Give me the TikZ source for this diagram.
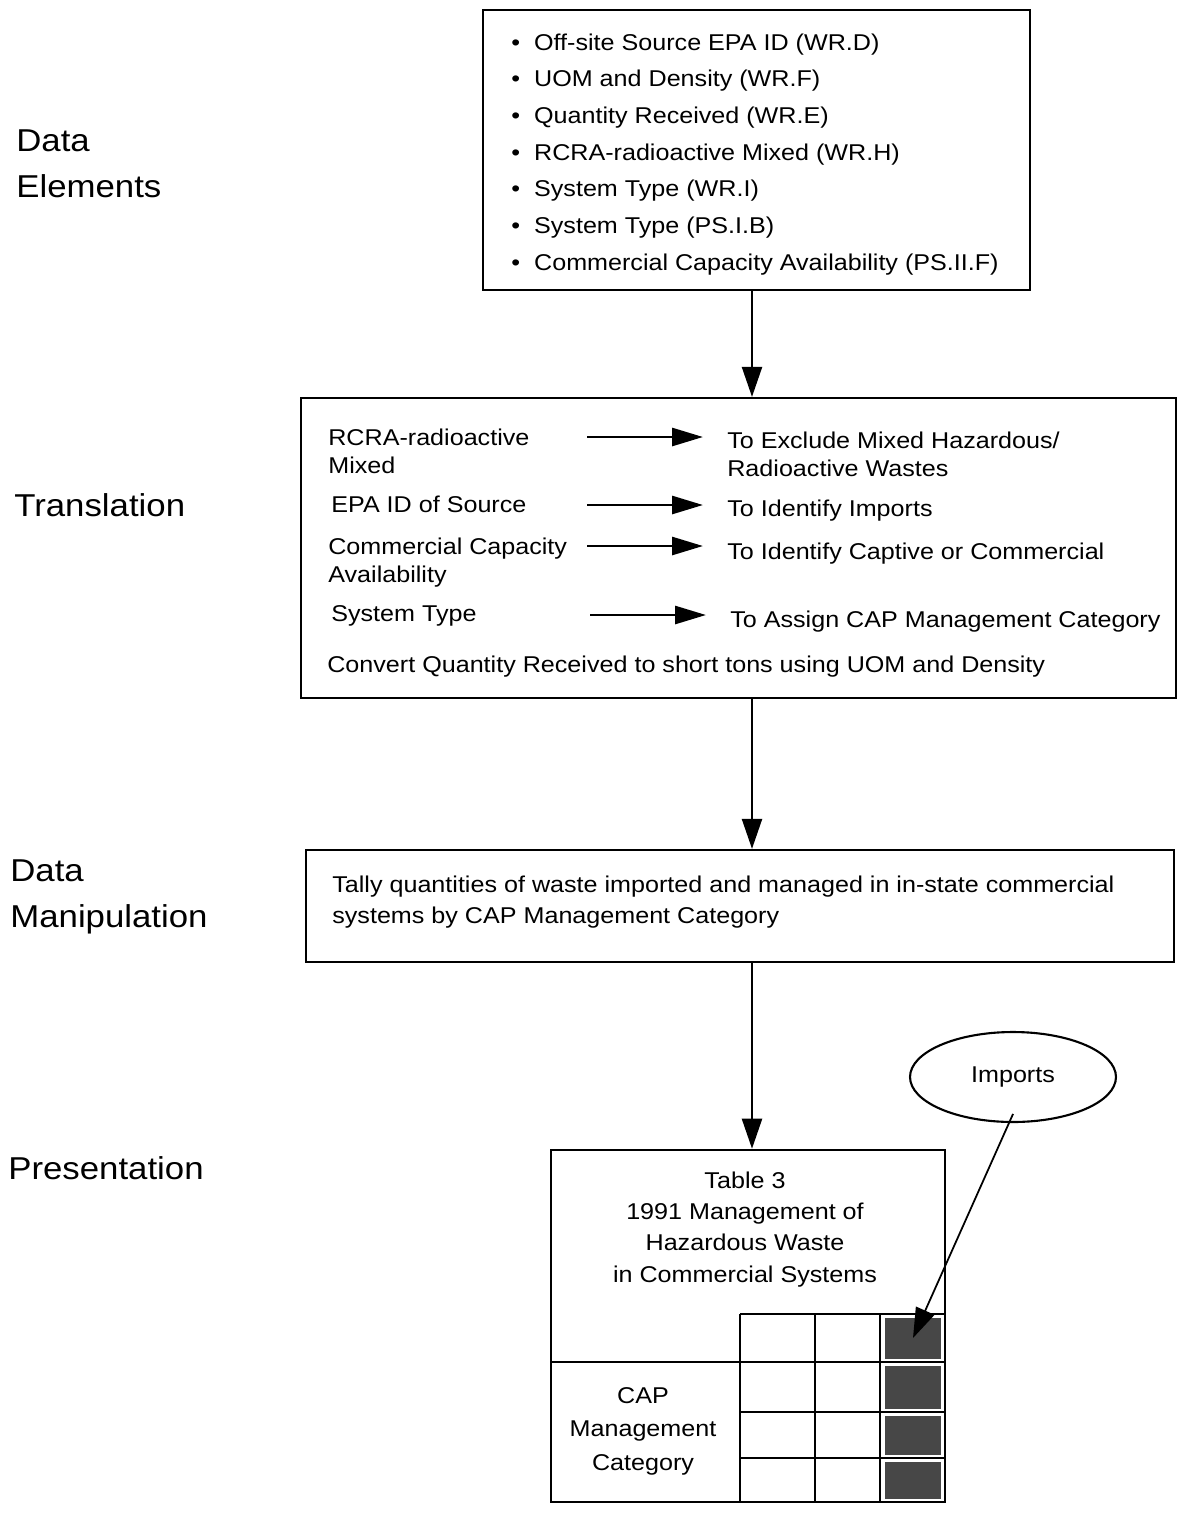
\documentclass[tikz,border=0pt]{standalone}
\usepackage{fontspec}
\setmainfont{Liberation Sans}[FakeStretch=1.1]
\usetikzlibrary{positioning,arrows.meta,shapes.geometric,calc}

\tikzstyle{box}=[rectangle, draw, line width=1.3pt, inner sep=0pt]
\tikzstyle{txt}=[inner sep=0pt, anchor=base west, align=left, font=\fontsize{13}{15.4}\selectfont]
\tikzstyle{stage}=[inner sep=0pt, anchor=base west, align=left, font=\fontsize{18}{26}\selectfont]
\tikzstyle{flow}=[-{Triangle[length=0.6cm,width=0.4cm]}, line width=1.3pt]
\tikzstyle{tflow}=[-{Triangle[length=0.62cm,width=0.36cm]}, line width=1.6pt]
\tikzstyle{grid}=[line width=1.5pt]
\tikzstyle{dark}=[rectangle, fill=black!72, inner sep=0pt, minimum width=1.12cm]

\begin{document}
\begin{tikzpicture}[x=0.02cm, y=-0.02cm]
\useasboundingbox (0,0) rectangle (1180,1515);

% stage labels (base = last line)
    \node (sde) [stage] at (16,197) {Data\\Elements};
    \node (str) [stage] at (14,516) {Translation};
    \node (sdm) [stage] at (10,927) {Data\\Manipulation};
    \node (spr) [stage] at (8,1179) {Presentation};

% DATA ELEMENTS
    \node (elem) [box, minimum width=10.94cm, minimum height=5.6cm] at (756.5,150) {};
    \foreach \el [count=\i] in {Off-site Source EPA ID (WR.D), UOM and Density (WR.F),
        Quantity Received (WR.E), RCRA-radioactive Mixed (WR.H), System Type (WR.I),
        System Type (PS.I.B), Commercial Capacity Availability (PS.II.F)}
        \node (e\i) [txt] at (511,{50+36.7*(\i-1)}) {\textbullet\hspace{0.28cm}\el};

% TRANSLATION
    \node (trans) [box, minimum width=17.5cm, minimum height=6cm] at (738.5,548) {};
    \node (rcra) [txt] at (328,473) {RCRA-radioactive\\Mixed};
    \node (excl) [txt] at (727,476) {To Exclude Mixed Hazardous/\\Radioactive Wastes};
    \node (epa) [txt] at (331,512) {EPA ID of Source};
    \node (imps) [txt] at (727,516) {To Identify Imports};
    \node (cca) [txt] at (328,582) {Commercial Capacity\\Availability};
    \node (capt) [txt] at (727,559) {To Identify Captive or Commercial};
    \node (styp) [txt] at (331,621) {System Type};
    \node (asgn) [txt] at (730,627) {To Assign CAP Management Category};
    \node (conv) [txt] at (327,672) {Convert Quantity Received to short tons using UOM and Density};

   \draw[tflow] ($(rcra.base west)+(259,-36)$) -- ($(rcra.base west -| excl.west)+(-24,-36)$);
   \draw[tflow] ($(epa.base west)+(256,-7)$) -- ($(epa.base west -| imps.west)+(-24,-7)$);
   \draw[tflow] ($(cca.base west)+(259,-36)$) -- ($(cca.base west -| capt.west)+(-24,-36)$);
   \draw[tflow] ($(styp.base west)+(259,-6)$) -- ($(styp.base west -| asgn.west)+(-24,-6)$);

% DATA MANIPULATION
    \node (manip) [box, minimum width=17.36cm, minimum height=2.24cm] at (740,906) {};
    \node (tally) [txt, font=\fontsize{13}{17.6}\selectfont] at (332,923)
        {Tally quantities of waste imported and managed in in-state commercial\\systems by CAP Management Category};

% PRESENTATION
    \node (tbl) [box, line width=1.5pt, minimum width=7.88cm, minimum height=7.04cm] at (748,1326) {};
    \node (title) [txt, anchor=base, align=center, font=\fontsize{13}{17.8}\selectfont] at (745,1282)
        {Table 3\\1991 Management of\\Hazardous Waste\\in Commercial Systems};
    \node (cap) [txt, anchor=base, align=center, font=\fontsize{13}{18.8}\selectfont] at (643,1470)
        {CAP\\Management\\Category};
    \draw[grid] (740,1314) -- (945,1314);
    \draw[grid] (740,1314) -- (740,1502);
    \draw[grid] (815,1314) -- (815,1502);
    \draw[grid] (880,1314) -- (880,1502);
    \draw[grid] (551,1362) -- (945,1362);
    \draw[grid] (740,1412) -- (945,1412);
    \draw[grid] (740,1458) -- (945,1458);
    \foreach \ya/\yb [count=\i] in {1314/1362, 1362/1412, 1412/1458, 1458/1502}
        \node (s\i) [dark, minimum height={(\yb-\ya-7)*0.02cm}] at (913,{(\ya+\yb)/2}) {};

    \node (imp) [ellipse, draw, line width=1.2pt, minimum width=4.12cm, minimum height=1.8cm,
        font=\fontsize{13}{15}\selectfont] at (1013,1077) {Imports};

% flow
   \coordinate (spine) at (752,0);
   \draw[flow] (elem.south -| spine) -- (trans.north -| spine);
   \draw[flow] (trans.south -| spine) -- (manip.north -| spine);
   \draw[flow] (manip.south -| spine) -- (tbl.north -| spine);
   \draw[flow, line width=1pt, shorten <=-0.2cm] (imp.265) -- (s1.center);

\end{tikzpicture}
\end{document}
